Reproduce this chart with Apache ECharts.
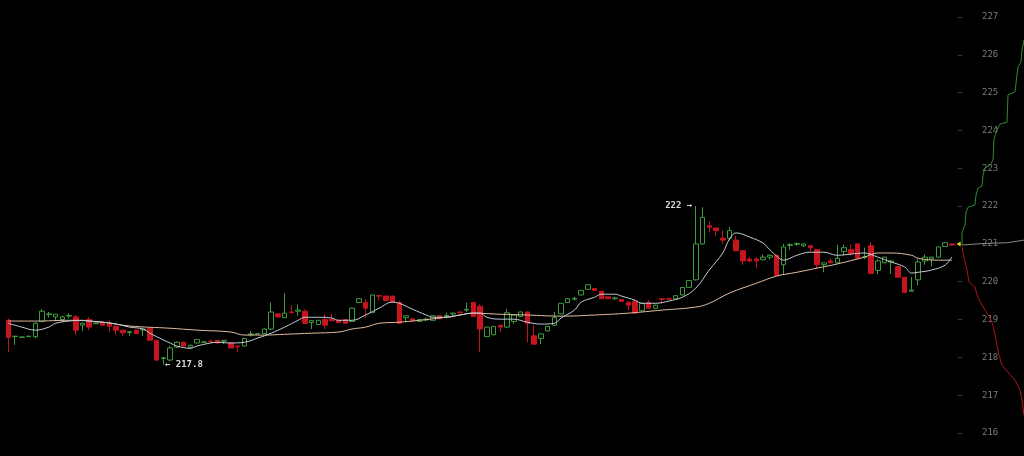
<!DOCTYPE html>
<html><head><meta charset="utf-8">
<script src="https://cdn.jsdelivr.net/npm/echarts@6/dist/echarts.min.js"></script>
<style>html,body{margin:0;padding:0;background:#000;}#c{width:1024px;height:456px;}</style>
</head><body><div id="c"></div>
<script>
// ---- candle data (open, close, low, high) ----
const opens = [218.98,218.55,218.53,218.55,218.55,218.95,219.13,219.07,219.0,219.09,219.07,218.85,219.0,218.89,218.93,218.9,218.82,218.72,218.66,218.72,
218.72,218.77,218.45,217.97,217.93,218.27,218.4,218.27,218.38,218.4,218.43,218.45,218.43,218.38,218.3,218.3,218.6,218.62,218.63,218.75,
219.15,219.05,219.2,219.22,219.22,218.92,218.87,219.0,219.0,218.98,219.0,218.95,219.45,219.45,219.18,219.63,219.62,219.62,219.45,219.05,
219.02,218.95,218.99,218.98,219.1,219.09,219.15,219.2,219.25,219.45,219.35,218.55,218.6,218.85,218.8,218.95,219.08,219.2,218.57,218.5,
218.7,218.85,219.15,219.45,219.54,219.65,219.8,219.82,219.75,219.6,219.55,219.53,219.46,219.48,219.23,219.45,219.3,219.55,219.56,219.55,
219.65,219.85,220.05,221.0,221.48,221.42,221.15,221.15,221.1,220.82,220.6,220.6,220.58,220.65,220.7,220.45,220.96,220.99,220.95,220.95,
220.85,220.45,220.55,220.5,220.8,220.85,221.0,220.64,220.95,220.3,220.5,220.52,220.4,220.12,219.75,220.05,220.55,220.6,220.65,220.93,
221.0];
const closes = [218.53,218.56,218.54,218.56,218.9,219.22,219.15,219.14,219.07,219.11,218.72,218.9,218.8,218.91,218.85,218.82,218.72,218.65,218.68,218.63,
218.75,218.45,217.93,217.99,218.25,218.4,218.3,218.32,218.47,218.41,218.42,218.38,218.45,218.25,218.28,218.5,218.62,218.63,218.75,219.2,
219.07,219.17,219.18,219.25,218.9,218.97,218.98,218.85,218.97,218.92,218.9,219.3,219.55,219.3,219.65,219.62,219.5,219.45,218.9,219.1,
218.97,219.0,219.01,219.1,219.02,219.11,219.17,219.18,219.27,219.08,218.75,218.8,218.82,218.8,219.18,219.12,219.2,218.9,218.35,218.62,
218.82,219.05,219.43,219.55,219.56,219.77,219.92,219.77,219.55,219.55,219.57,219.48,219.38,219.17,219.43,219.3,219.38,219.53,219.54,219.63,
219.85,220.03,221.0,221.7,221.44,221.35,221.1,221.35,220.82,220.55,220.55,220.55,220.65,220.7,220.17,220.92,220.98,221.01,221.0,220.9,
220.45,220.5,220.5,220.62,220.9,220.75,220.62,220.66,220.22,220.55,220.65,220.55,220.12,219.72,219.78,220.52,220.65,220.65,220.92,221.03,
220.97];
const lows = [218.14,218.33,218.52,218.54,218.5,218.93,219.05,218.95,218.93,219.03,218.6,218.7,218.72,218.88,218.84,218.68,218.6,218.57,218.57,218.62,
218.56,218.44,217.9,217.8,217.9,218.25,218.28,218.22,218.37,218.39,218.37,218.37,218.35,218.24,218.13,218.29,218.55,218.62,218.62,218.72,
219.06,219.04,219.17,219.1,218.89,218.75,218.86,218.75,218.96,218.91,218.89,218.93,219.44,219.05,219.17,219.5,219.49,219.44,218.88,218.93,
218.96,218.94,218.95,218.97,219.01,219.03,219.1,219.17,219.2,219.07,218.14,218.54,218.58,218.68,218.78,218.88,219.07,218.4,218.34,218.35,
218.69,218.84,219.14,219.44,219.5,219.64,219.79,219.76,219.54,219.54,219.52,219.47,219.25,219.15,219.22,219.29,219.29,219.42,219.53,219.54,
219.64,219.84,220.03,220.98,221.3,221.2,221.0,221.1,220.8,220.45,220.52,220.35,220.57,220.58,220.16,220.2,220.85,220.95,220.92,220.8,
220.35,220.25,220.49,220.49,220.7,220.7,220.6,220.6,220.2,220.2,220.49,220.2,220.11,219.7,219.73,219.9,220.45,220.4,220.64,220.92,
220.96];
const highs = [219.02,218.57,218.55,218.57,218.93,219.28,219.2,219.15,219.1,219.17,219.12,218.92,219.06,218.92,218.94,218.97,218.84,218.74,218.69,218.73,
218.76,218.8,218.46,218.0,218.3,218.42,218.42,218.34,218.48,218.42,218.47,218.46,218.46,218.39,218.31,218.51,218.7,218.64,218.77,219.45,
219.16,219.7,219.38,219.4,219.27,218.98,218.99,219.14,219.15,218.99,219.02,219.32,219.56,219.55,219.66,219.64,219.63,219.63,219.5,219.11,
219.03,219.01,219.05,219.11,219.11,219.18,219.18,219.21,219.45,219.46,219.4,218.81,218.83,218.86,219.28,219.13,219.21,219.21,218.85,218.63,
218.83,219.2,219.44,219.56,219.6,219.78,219.93,219.83,219.76,219.61,219.6,219.54,219.47,219.52,219.44,219.52,219.39,219.56,219.57,219.64,
219.86,220.04,222.0,221.97,221.6,221.43,221.35,221.45,221.2,220.83,220.65,220.65,220.72,220.72,220.71,221.0,221.02,221.04,221.01,220.96,
220.86,220.51,220.62,220.98,220.98,220.98,221.01,220.9,221.05,220.6,220.66,220.56,220.41,220.13,220.12,220.6,220.72,220.66,220.93,221.04,
221.01];
const lastPrice = 221.0;

// ---- moving averages: [candle index, price] ----
const maFast = [[0,218.90],[2,218.80],[4,218.72],[6,218.80],[7,218.90],[9,218.96],[11,218.98],[12,218.96],[14,218.93],[16,218.88],[18,218.80],[20,218.75],
[21,218.64],[23,218.46],[24,218.38],[25,218.30],[27,218.24],[28,218.30],[30,218.38],[31,218.40],[33,218.38],[35,218.40],[37,218.51],[39,218.64],[41,218.80],
[43,218.98],[44,219.06],[46,219.06],[48,219.04],[49,218.98],[51,218.98],[53,219.12],[55,219.30],[57,219.46],[58,219.43],[60,219.27],[62,219.12],[63,219.06],
[65,219.06],[67,219.12],[69,219.17],[70,219.17],[71,219.06],[73,219.01],[75,219.01],[77,218.93],[79,218.88],[81,218.90],[82,219.04],[84,219.25],[85,219.46],
[87,219.59],[88,219.67],[90,219.67],[91,219.62],[93,219.51],[94,219.43],[96,219.43],[98,219.49],[100,219.59],[102,219.83],[104,220.31],[106,220.76],
[107,221.13],[108,221.29],[110,221.18],[112,221.02],[113,220.84],[114,220.68],[115,220.57],[117,220.70],[119,220.78],[121,220.78],[123,220.70],[125,220.73],
[127,220.76],[129,220.65],[131,220.52],[133,220.39],[134,220.23],[135,220.25],[137,220.31],[139,220.44],[140,220.66]];
const maSlow = [[0,218.96],[4,218.96],[9,218.98],[14,218.93],[18,218.83],[24,218.77],[28,218.72],[33,218.67],[35,218.59],[38,218.59],[41,218.61],[45,218.64],
[49,218.67],[51,218.75],[53,218.80],[55,218.90],[58,218.93],[61,218.98],[64,219.04],[67,219.12],[69,219.17],[73,219.14],[77,219.12],[82,219.09],[87,219.12],
[92,219.17],[97,219.25],[102,219.33],[104,219.43],[107,219.70],[111,219.96],[114,220.15],[117,220.25],[120,220.36],[123,220.47],[127,220.65],[129,220.76],
[131,220.76],[134,220.70],[135,220.62],[138,220.57],[140,220.57]];

// ---- depth (cumulative volume, price) ----
const asks = [[0,220.97],[0,221.31],[30,221.50],[40,221.84],[60,221.97],[130,222.03],[140,222.29],[160,222.48],[200,222.53],[210,222.82],[230,223.01],
[280,223.08],[310,223.22],[320,223.75],[340,223.96],[380,224.17],[450,224.22],[460,224.94],[530,225.02],[550,225.47],[560,225.68],[590,225.81],[600,226.13],[620,226.39]];
const bids = [[0,220.92],[20,220.62],[50,220.31],[70,219.99],[130,219.86],[150,219.65],[190,219.43],[230,219.25],[280,219.04],[310,218.85],[330,218.59],
[350,218.32],[370,218.06],[400,217.79],[460,217.61],[530,217.40],[580,217.13],[600,216.87],[620,216.47]];
const midLine = [[0,220.97],[150,221.0],[300,221.02],[450,221.03],[620,221.1]];

const yTicks = [216,227];
const highLabel = '222 \u2192';
const lowLabel = '\u2190 217.8';

const categories = opens.map((_, i) => String(i + 1)).concat(['now']);
const candles = opens.map((o, i) => [o, closes[i], lows[i], highs[i]]).concat(['-']);

let hiIdx = 0, loIdx = 0;
highs.forEach((h, i) => { if (h > highs[hiIdx]) hiIdx = i; });
lows.forEach((l, i) => { if (l < lows[loIdx]) loIdx = i; });

const chart = echarts.init(document.getElementById('c'));
const yCommon = { type: 'value', min: yTicks[0], max: yTicks[1], interval: 1, splitLine: { show: false }, axisLine: { show: false } };
chart.setOption({
  backgroundColor: '#000',
  animation: false,
  grid: [
    { left: 5, right: 62, top: 17, bottom: 23 },
    { left: 962, right: 0, top: 17, bottom: 23 }
  ],
  xAxis: [
    { type: 'category', data: categories, gridIndex: 0, show: false, boundaryGap: true },
    { type: 'value', gridIndex: 1, min: 0, max: 620, show: false }
  ],
  yAxis: [
    Object.assign({}, yCommon, { gridIndex: 0, position: 'right',
      axisTick: { show: true, inside: true, length: 4, lineStyle: { color: '#3a3a3a' } },
      axisLabel: { show: true, margin: 20, color: '#7a7a7a', fontSize: 9, fontFamily: 'DejaVu Sans Mono' } }),
    Object.assign({}, yCommon, { gridIndex: 1, position: 'right',
      axisTick: { show: true, inside: true, length: 4, lineStyle: { color: '#3a3a3a' } },
      axisLabel: { show: false } })
  ],
  series: [
    {
      type: 'candlestick', xAxisIndex: 0, yAxisIndex: 0, data: candles, barWidth: 5,
      itemStyle: { color: '#000', color0: '#c8141e', borderColor: '#3f9b3f', borderColor0: '#c8141e', borderWidth: 1 },
      markPoint: {
        symbol: 'circle', symbolSize: 1, itemStyle: { color: 'rgba(0,0,0,0)' },
        label: { color: '#d8d8d8', fontSize: 9, fontFamily: 'DejaVu Sans Mono', fontWeight: 'bold' },
        data: [
          { coord: [hiIdx, highs[hiIdx]], label: { formatter: highLabel, position: 'left', distance: 3 } },
          { coord: [loIdx, lows[loIdx]], label: { formatter: lowLabel, position: 'right', distance: 1 } },
          { coord: [opens.length, lastPrice], symbol: 'triangle', symbolSize: [5, 4], symbolRotate: 90, itemStyle: { color: '#e6d21e' }, label: { show: false } }
        ]
      }
    },
    { type: 'line', xAxisIndex: 0, yAxisIndex: 0, data: maSlow, smooth: 0.4, showSymbol: false, lineStyle: { color: '#e2bca0', width: 1 } },
    { type: 'line', xAxisIndex: 0, yAxisIndex: 0, data: maFast, smooth: 0.4, showSymbol: false, lineStyle: { color: '#c4ccd8', width: 1 } },
    { type: 'line', xAxisIndex: 1, yAxisIndex: 1, data: midLine, showSymbol: false, lineStyle: { color: '#8a8a8a', width: 1 } },
    { type: 'line', xAxisIndex: 1, yAxisIndex: 1, data: asks, showSymbol: false, lineStyle: { color: '#2c8c2c', width: 1 } },
    { type: 'line', xAxisIndex: 1, yAxisIndex: 1, data: bids, showSymbol: false, lineStyle: { color: '#b0141c', width: 1 } }
  ]
});
</script></body></html>
